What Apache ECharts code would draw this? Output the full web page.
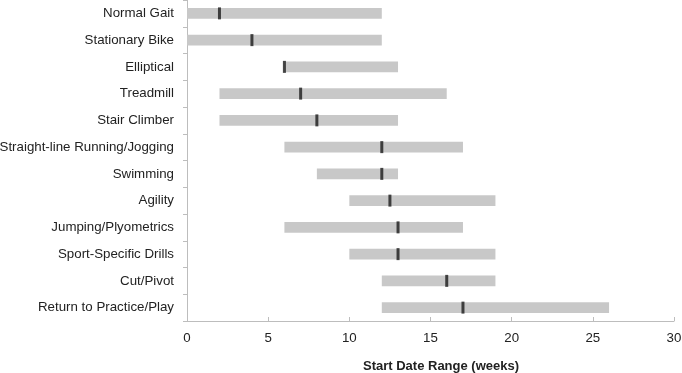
<!DOCTYPE html>
<html>
<head>
<meta charset="utf-8">
<script src="https://cdn.jsdelivr.net/npm/echarts@6/dist/echarts.min.js"></script>
<style>
html,body{margin:0;padding:0;background:#fff;}
#chart{width:682px;height:373px;}
</style>
</head>
<body>
<div id="chart"></div>
<script>
const categories = ["Normal Gait","Stationary Bike","Elliptical","Treadmill","Stair Climber","Straight-line Running/Jogging","Swimming","Agility","Jumping/Plyometrics","Sport-Specific Drills","Cut/Pivot","Return to Practice/Play"];
const rangeStart = [0,0,6,2,2,6,8,10,6,10,12,12];
const rangeEnd = [12,12,13,16,13,17,13,19,17,19,19,26];
const medians = [2,4,6,7,8,12,12,12.5,13,13,16,17];
const xMin = 0, xMax = 30, xInterval = 5;

const font = "'Liberation Sans', Arial, sans-serif";
const chart = echarts.init(document.getElementById('chart'), null, {renderer:'canvas'});
const rangeData = categories.map((c,i)=>[i, rangeStart[i], rangeEnd[i]]);
const medianData = categories.map((c,i)=>[medians[i], i]);

chart.setOption({
  animation:false,
  backgroundColor:'#fff',
  grid:{left:187, right:8, top:0, bottom:52, containLabel:false, outerBoundsMode:'none'},
  xAxis:{
    type:'value', min:xMin, max:xMax, interval:xInterval,
    name:'Start Date Range (weeks)', nameLocation:'middle', nameGap:39,
    nameTextStyle:{fontFamily:font, fontSize:13, fontWeight:'bold', color:'#222', padding:[0,0,0,21]},
    axisLine:{show:true, lineStyle:{color:'#bdbdbd', width:1}},
    axisTick:{show:true, inside:true, length:4, lineStyle:{color:'#bdbdbd'}},
    axisLabel:{fontFamily:font, fontSize:13.3, color:'#222', margin:11},
    splitLine:{show:false}
  },
  yAxis:{
    type:'category', data:categories, inverse:true,
    axisLine:{show:true, lineStyle:{color:'#bdbdbd', width:1}},
    axisTick:{show:true, inside:false, length:4, lineStyle:{color:'#bdbdbd'}},
    axisLabel:{fontFamily:font, fontSize:13.3, color:'#222', margin:13},
    splitLine:{show:false}
  },
  series:[
    {
      type:'custom',
      data:rangeData,
      encode:{y:0, x:[1,2]},
      renderItem:function(params, api){
        const yi = api.value(0);
        const s = api.coord([api.value(1), yi]);
        const e = api.coord([api.value(2), yi]);
        const h = api.size([0,1])[1]*0.4;
        return {type:'rect', shape:{x:s[0], y:s[1]-h/2, width:e[0]-s[0], height:h}, style:{fill:'#c8c8c8'}};
      },
      z:2
    },
    {
      type:'scatter',
      data:medianData,
      symbol:'rect',
      symbolSize:[3,12],
      itemStyle:{color:'#1a1a1a'},
      z:3
    }
  ]
});
</script>
</body>
</html>
